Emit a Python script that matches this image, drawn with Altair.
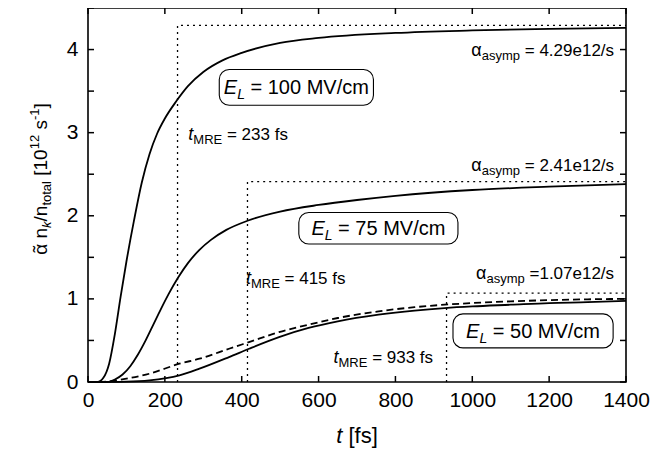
import altair as alt
import pandas as pd

FONT = "Liberation Sans"
W_PLOT, H_PLOT = 538, 374

# ---------------- data ----------------
T100 = [0, 25, 40, 55, 70, 85, 100, 120, 140, 160, 180, 200, 230, 260, 300, 350, 400, 500, 600, 800, 1000, 1200, 1400]
V100 = [0, 0, 0.05, 0.22, 0.58, 1.03, 1.45, 1.95, 2.40, 2.74, 2.99, 3.17, 3.38, 3.56, 3.73, 3.87, 3.96, 4.08, 4.14, 4.20, 4.23, 4.25, 4.26]

T75 = [0, 50, 70, 90, 110, 130, 150, 170, 190, 210, 235, 260, 290, 320, 360, 415, 500, 600, 700, 800, 1000, 1200, 1400]
V75 = [0, 0, 0.03, 0.09, 0.19, 0.33, 0.50, 0.69, 0.88, 1.06, 1.26, 1.43, 1.59, 1.71, 1.83, 1.94, 2.05, 2.13, 2.19, 2.24, 2.31, 2.35, 2.38]

T50 = [0, 100, 160, 238, 290, 367, 419, 497, 574, 650, 756, 850, 928, 1000, 1100, 1200, 1300, 1400]
V50 = [0, 0.005, 0.02, 0.08, 0.16, 0.30, 0.40, 0.54, 0.65, 0.73, 0.81, 0.86, 0.89, 0.91, 0.93, 0.95, 0.96, 0.975]

T50D = [0, 30, 100, 160, 238, 290, 367, 419, 497, 574, 650, 756, 850, 928, 1000, 1100, 1200, 1300, 1400]
V50D = [0, 0.0, 0.04, 0.10, 0.22, 0.28, 0.40, 0.48, 0.60, 0.69, 0.77, 0.85, 0.90, 0.93, 0.95, 0.97, 0.985, 0.995, 1.0]

T_MRE = [233, 415, 933]
ALPHA_ASYMP = [4.29, 2.41, 1.07]
ASYMP_TEXT = ["= 4.29e12/s", "= 2.41e12/s", "=1.07e12/s"]
MRE_TEXT = [" = 233 fs", " = 415 fs", " = 933 fs"]
FIELD_TEXT = [" = 100 MV/cm", " = 75 MV/cm", " = 50 MV/cm"]

# annotation anchors (data coordinates)
ASYMP_POS = [(1369, 3.92), (1369, 2.54), (1369, 1.24)]
MRE_POS = [(261, 2.91, "left"), (411, 1.18, "left"), (898, 0.23, "right")]
BOX_T = [(341.6, 742.8), (548.6, 962.7), (949.8, 1366.5)]
BOX_V = [(3.33, 3.76), (1.66, 2.04), (0.41, 0.82)]

X_TICKS = [0, 200, 400, 600, 800, 1000, 1200, 1400]
Y_TICKS = [0, 0.5, 1, 1.5, 2, 2.5, 3, 3.5, 4, 4.5]
Y_LABELS = [0, 1, 2, 3, 4]

# ---------------- helpers ----------------
CW = {' ': 0.278, '=': 0.584, '.': 0.278, '/': 0.278, '[': 0.278, ']': 0.278, '-': 0.333,
      'a': 0.556, 'c': 0.5, 'e': 0.556, 'f': 0.278, 'k': 0.5, 'l': 0.222, 'm': 0.833,
      'n': 0.556, 'o': 0.556, 'p': 0.556, 's': 0.5, 't': 0.278, 'y': 0.5,
      'E': 0.667, 'L': 0.556, 'M': 0.833, 'R': 0.722, 'V': 0.667, 'α': 0.578, '˜': 0.333}


def tw(s, size):
    return sum(CW.get(c, 0.556) for c in s) * size


xs = alt.Scale(domain=[0, 1400], nice=False, zero=False)
ys = alt.Scale(domain=[0, 4.5], nice=False, zero=False)
xax = alt.Axis(values=X_TICKS, title=None, grid=False, domain=False, ticks=False, tickSize=0,
               labelFontSize=21, labelFont=FONT, labelColor="black", labelPadding=7, format="d",
               labelFlush=False, labelOverlap=False)
yax = alt.Axis(values=Y_LABELS, title=None, grid=False, domain=False, ticks=False, tickSize=0,
               labelFontSize=21, labelFont=FONT, labelColor="black", labelPadding=10, format="d",
               labelFlush=False, labelOverlap=False)


def X(f="t"):
    return alt.X(f"{f}:Q", scale=xs, axis=xax)


def Y(f="v"):
    return alt.Y(f"{f}:Q", scale=ys, axis=yax)


def rich(parts, x, y, align="left", angle=0, pixel=False, dy0=0):
    """parts: (text, size, italic, baseline shift[, extra dx, advances])"""
    norm = []
    for p in parts:
        p = list(p) + [0, True][len(p) - 4:] if len(p) < 6 else list(p)
        norm.append(p)
    total = sum(tw(p[0], p[1]) for p in norm if p[5])
    cum = {"left": 0, "center": -total / 2, "right": -total}[align]
    out = []
    for txt, size, italic, shift, extra, adv in norm:
        lead = len(txt) - len(txt.lstrip(" "))
        cum += lead * CW[" "] * size
        core = txt.lstrip(" ")
        mk = dict(align="left", baseline="alphabetic", dx=cum + extra, dy=shift + dy0, fontSize=size,
                  font=FONT, color="black")
        if italic:
            mk["fontStyle"] = "italic"
        if angle:
            mk["angle"] = angle
        df = pd.DataFrame({"t": [x], "v": [y], "txt": [core]})
        if pixel:
            enc = dict(x=alt.value(x), y=alt.value(y), text="txt:N")
        else:
            enc = dict(x=X(), y=Y(), text="txt:N")
        out.append(alt.Chart(df).mark_text(**mk).encode(**enc))
        if adv:
            cum += tw(core, size)
    return out


# ---------------- curves ----------------
solid = pd.concat([
    pd.DataFrame({"t": T100, "v": V100, "s": "100"}),
    pd.DataFrame({"t": T75, "v": V75, "s": "75"}),
    pd.DataFrame({"t": T50, "v": V50, "s": "50"}),
])
dashed = pd.DataFrame({"t": T50D, "v": V50D, "s": "50d"})

layers = []
layers.append(alt.Chart(solid).mark_line(color="black", strokeWidth=1.8, interpolate="monotone")
              .encode(x=X(), y=Y(), detail="s:N"))
layers.append(alt.Chart(dashed).mark_line(color="black", strokeWidth=1.8, interpolate="monotone",
                                          strokeDash=[7, 4]).encode(x=X(), y=Y()))

# dotted guide lines
rows = []
for i, (tm, a) in enumerate(zip(T_MRE, ALPHA_ASYMP)):
    rows += [{"t": tm, "v": 0, "g": i, "o": 0}, {"t": tm, "v": a, "g": i, "o": 1},
             {"t": 1400, "v": a, "g": i, "o": 2}]
guides = pd.DataFrame(rows)
layers.append(alt.Chart(guides).mark_line(color="black", strokeWidth=1.3, strokeDash=[2, 4])
              .encode(x=X(), y=Y(), detail="g:N", order="o:Q"))

# inward ticks on all four sides
xt = pd.DataFrame({"t": X_TICKS})
yt = pd.DataFrame({"v": Y_TICKS})
layers.append(alt.Chart(xt).mark_rule(color="black", strokeWidth=1.5)
              .encode(x=X(), y=alt.value(H_PLOT), y2=alt.value(H_PLOT - 6)))
layers.append(alt.Chart(xt).mark_rule(color="black", strokeWidth=1.5)
              .encode(x=X(), y=alt.value(0), y2=alt.value(6)))
layers.append(alt.Chart(yt).mark_rule(color="black", strokeWidth=1.5)
              .encode(y=Y(), x=alt.value(0), x2=alt.value(6)))
layers.append(alt.Chart(yt).mark_rule(color="black", strokeWidth=1.5)
              .encode(y=Y(), x=alt.value(W_PLOT), x2=alt.value(W_PLOT - 6)))

# boxes
boxes = pd.DataFrame({"t": [b[0] for b in BOX_T], "t2": [b[1] for b in BOX_T],
                      "v": [b[0] for b in BOX_V], "v2": [b[1] for b in BOX_V]})
layers.append(alt.Chart(boxes).mark_rect(fill="white", stroke="black", strokeWidth=1.1, cornerRadius=10)
              .encode(x=X(), x2="t2:Q", y=Y(), y2="v2:Q"))

# box labels
for (t0, t1), (v0, v1), ft in zip(BOX_T, BOX_V, FIELD_TEXT):
    layers += rich([("E", 20, True, 0), ("L", 14, True, 5), (ft, 20, False, 0)],
                   (t0 + t1) / 2, (v0 + v1) / 2, align="center", dy0=7)

# alpha_asymp labels
for (t, v), txt in zip(ASYMP_POS, ASYMP_TEXT):
    layers += rich([("α", 18, False, 0), ("asymp", 13, False, 4), (" " + txt, 17, False, 0)],
                   t, v, align="right")

# t_MRE labels
for (t, v, al), txt in zip(MRE_POS, MRE_TEXT):
    layers += rich([("t", 18, True, 0), ("MRE", 13, False, 4), (txt, 17, False, 0)],
                   t, v, align=al)

# axis titles
layers += rich([("t", 22, True, 0), (" [fs]", 22, False, 0)], W_PLOT / 2, 435, align="center", pixel=True)
layers += rich([("˜", 19, False, -1, 2.5, False), ("α", 19, False, 0), (" n", 19, False, 0),
                ("k", 13, True, 4), ("/n", 19, False, 0),
                ("total", 13, False, 4), (" [10", 19, False, 0), ("12", 13, False, -8),
                (" s", 19, False, 0), ("-1", 13, False, -8), ("]", 19, False, 0)],
               -41, 171, align="center", angle=270, pixel=True)

chart = alt.layer(*layers).properties(
    width=W_PLOT, height=H_PLOT,
    padding={"left": 80, "top": 0, "right": 24, "bottom": 66},
    autosize=alt.AutoSizeParams(type="none"),
).configure_view(stroke="black", strokeWidth=1.6)

chart.save("out.html", embed_options={"renderer": "svg", "actions": False})
